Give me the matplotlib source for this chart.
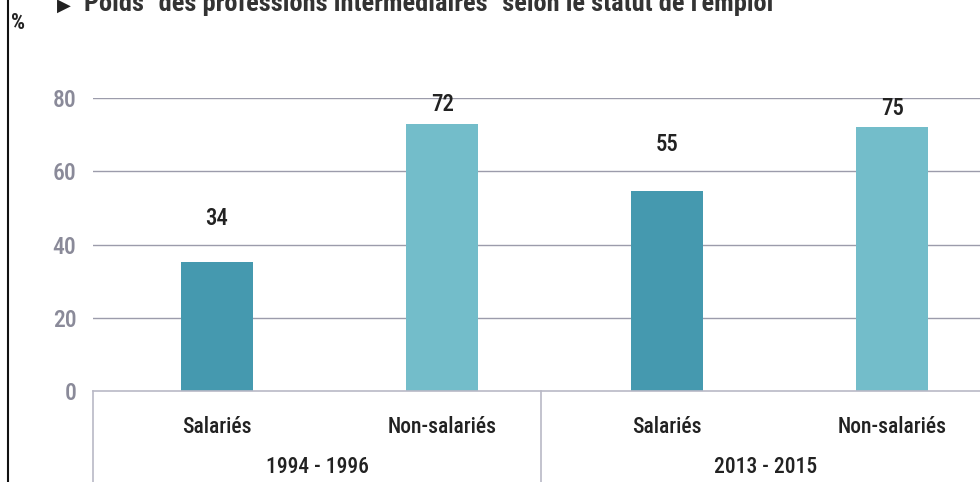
import matplotlib
matplotlib.use("Agg")
import matplotlib.pyplot as plt
from matplotlib import font_manager

# data
groups = ["1994 - 1996", "2013 - 2015"]
categories = ["Salariés", "Non-salariés", "Salariés", "Non-salariés"]
bar_values = [35.3, 72.9, 54.7, 72.2]   # bar heights as drawn
bar_labels = ["34", "72", "55", "75"]   # printed values
yticks = [0, 20, 40, 60, 80]

# pick a narrow font if there is one
fonts = font_manager.fontManager.ttflist
names = {f.name for f in fonts}
stretch = "normal"
fam = "DejaVu Sans"
for cand in ["Roboto Condensed", "Liberation Sans Narrow", "Open Sans Condensed",
             "DejaVu Sans Condensed", "Noto Sans Condensed"]:
    if cand in names:
        fam = cand
        break
else:
    if any(f.name == "DejaVu Sans" and f.stretch == "condensed" for f in fonts):
        stretch = "condensed"
plt.rcParams["font.family"] = [fam, "DejaVu Sans"]
plt.rcParams["font.stretch"] = stretch

dark = "#4599AF"
light = "#73BDCA"
colors = [dark, light, dark, light]
grid_col = "#9c9cab"
box_col = "#b9b9c6"
tick_col = "#8a8a99"
txt_col = "#222222"
wt = "medium"

fig = plt.figure(figsize=(9.8, 4.82), dpi=100)
ax = fig.add_axes([93/980, 1-391/482, 1-93/980, (391-98)/482])

x = list(range(len(bar_values)))
ax.bar(x, bar_values, width=0.32, color=colors, zorder=3)
ax.set_xlim(-0.551, 3.39)
ax.set_ylim(0, 80)
ax.set_yticks(yticks)
ax.set_yticklabels([str(t) for t in yticks], fontweight=wt)
ax.tick_params(axis="y", length=0, pad=12, labelsize=17, labelcolor=tick_col)
ax.set_xticks([])
for s in ax.spines.values():
    s.set_visible(False)
for t in yticks[1:]:
    ax.axhline(t, color=grid_col, lw=1, zorder=1)

# value labels above bars (offsets in points)
offs = [31, 14, 33, 13]
for xi, v, lab, o in zip(x, bar_values, bar_labels, offs):
    ax.annotate(lab, (xi, v), xytext=(0, o), textcoords="offset points",
                ha="center", va="center", fontsize=16.5, fontweight=wt, color=txt_col)

# category table below the axis
ax.plot([0, 1], [0, 0], transform=ax.transAxes, color=box_col, lw=1.2, clip_on=False, zorder=4)
for xf in [0, 0.505]:
    ax.plot([xf, xf], [0, -91/293], transform=ax.transAxes, color=box_col, lw=1.2, clip_on=False)
for xi, c in zip(x, categories):
    ax.text(xi, -36/3.6625, c, ha="center", va="center", fontsize=15.5,
            fontweight=wt, color=txt_col)
for xf, g in zip([0.2525, 0.758], groups):
    ax.text(xf, -76/293, g, transform=ax.transAxes, ha="center", va="center",
            fontsize=15.5, fontweight=wt, color=txt_col)

# frame line, unit and title
fig.add_artist(plt.Line2D([8/980, 8/980], [0, 1], color="#111111", lw=1.5))
fig.text(11/980, 1-23/482, "%", fontsize=16, fontweight="bold", color=txt_col, va="center")
fig.text(57/980, 1-11/482, "▶", fontsize=13, color=txt_col, va="baseline")
fig.text(84/980, 1-11/482, "Poids \"des professions intermédiaires\" selon le statut de l'emploi",
         fontsize=19, fontweight="bold", color="#333333", va="baseline")

fig.savefig("out.png", dpi=100)
